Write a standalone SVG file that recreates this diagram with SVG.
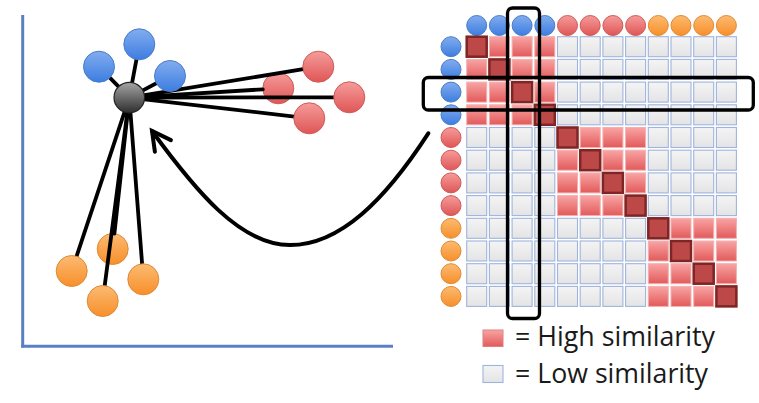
<svg xmlns="http://www.w3.org/2000/svg" xmlns:xlink="http://www.w3.org/1999/xlink" width="759" height="403" viewBox="0 0 759 403">
<style>
.axis{stroke:#5b7fc2;stroke-width:3;fill:none}
.edge{stroke:#000;stroke-width:3.8;stroke-linecap:round;fill:none}
.nb{fill:url(#gB);stroke:#4a7cc8;stroke-width:1}
.nr{fill:url(#gR);stroke:#cf5a5a;stroke-width:1}
.no{fill:url(#gO);stroke:#e08a35;stroke-width:1}
.nh{fill:url(#gH);stroke:#222;stroke-width:1.2}
.lo{fill:url(#gL);stroke:#9fb4dc;stroke-width:1.1}
.hi{fill:url(#gC);stroke:#f3b0b0;stroke-width:1}
.dg{fill:#bd4848;stroke:#7e2525;stroke-width:2.5}
.box{fill:none;stroke:#000;stroke-width:3.3}
.arrow{fill:none;stroke:#000;stroke-width:4;stroke-linecap:round}
.lg{font-family:"Open Sans","Liberation Sans",sans-serif;font-size:27px;fill:#1a1a1a}
</style>
<defs>
<linearGradient id="gB" x1="0" y1="0" x2="0" y2="1"><stop offset="0" stop-color="#82adef"/><stop offset="1" stop-color="#3d7de0"/></linearGradient>
<linearGradient id="gR" x1="0" y1="0" x2="0" y2="1"><stop offset="0" stop-color="#f59c9a"/><stop offset="1" stop-color="#df5656"/></linearGradient>
<linearGradient id="gO" x1="0" y1="0" x2="0" y2="1"><stop offset="0" stop-color="#fcbb72"/><stop offset="1" stop-color="#f78f2a"/></linearGradient>
<linearGradient id="gH" x1="0" y1="0" x2="0" y2="1"><stop offset="0" stop-color="#a5a5a5"/><stop offset="1" stop-color="#2e2e2e"/></linearGradient>
<linearGradient id="gL" x1="0" y1="0" x2="0" y2="1"><stop offset="0" stop-color="#f4f4f4"/><stop offset="1" stop-color="#e4e4e6"/></linearGradient>
<linearGradient id="gC" x1="0" y1="0" x2="0" y2="1"><stop offset="0" stop-color="#f9a4a4"/><stop offset="1" stop-color="#e25a5a"/></linearGradient>
<marker id="ah" markerUnits="userSpaceOnUse" orient="auto" refX="0" refY="0" markerWidth="40" markerHeight="40" viewBox="-30 -20 40 40" overflow="visible">
<path d="M -18.5 -9.9 L 0 0 L -18.5 9.9" fill="none" stroke="#000" stroke-width="4" stroke-linecap="round" stroke-linejoin="miter"/>
</marker>
<g id="lob">
<rect class="lo" x="0" y="0" width="20" height="20"/><rect class="lo" x="22.7" y="0" width="20" height="20"/><rect class="lo" x="45.4" y="0" width="20" height="20"/><rect class="lo" x="68.1" y="0" width="20" height="20"/>
<rect class="lo" x="0" y="22.7" width="20" height="20"/><rect class="lo" x="22.7" y="22.7" width="20" height="20"/><rect class="lo" x="45.4" y="22.7" width="20" height="20"/><rect class="lo" x="68.1" y="22.7" width="20" height="20"/>
<rect class="lo" x="0" y="45.4" width="20" height="20"/><rect class="lo" x="22.7" y="45.4" width="20" height="20"/><rect class="lo" x="45.4" y="45.4" width="20" height="20"/><rect class="lo" x="68.1" y="45.4" width="20" height="20"/>
<rect class="lo" x="0" y="68.1" width="20" height="20"/><rect class="lo" x="22.7" y="68.1" width="20" height="20"/><rect class="lo" x="45.4" y="68.1" width="20" height="20"/><rect class="lo" x="68.1" y="68.1" width="20" height="20"/>
</g>
<g id="hib">
<rect class="dg" x="0" y="0" width="20" height="20"/><rect class="hi" x="22.7" y="0" width="20" height="20"/><rect class="hi" x="45.4" y="0" width="20" height="20"/><rect class="hi" x="68.1" y="0" width="20" height="20"/>
<rect class="hi" x="0" y="22.7" width="20" height="20"/><rect class="dg" x="22.7" y="22.7" width="20" height="20"/><rect class="hi" x="45.4" y="22.7" width="20" height="20"/><rect class="hi" x="68.1" y="22.7" width="20" height="20"/>
<rect class="hi" x="0" y="45.4" width="20" height="20"/><rect class="hi" x="22.7" y="45.4" width="20" height="20"/><rect class="dg" x="45.4" y="45.4" width="20" height="20"/><rect class="hi" x="68.1" y="45.4" width="20" height="20"/>
<rect class="hi" x="0" y="68.1" width="20" height="20"/><rect class="hi" x="22.7" y="68.1" width="20" height="20"/><rect class="hi" x="45.4" y="68.1" width="20" height="20"/><rect class="dg" x="68.1" y="68.1" width="20" height="20"/>
</g>
</defs>
<rect width="759" height="403" fill="#fff"/>
<g id="axes">
<line class="axis" x1="22.7" y1="15" x2="22.7" y2="347.5"/>
<line class="axis" x1="21.2" y1="346.3" x2="393" y2="346.3"/>
</g>
<g id="node-r2"><circle class="nr" cx="278.3" cy="88.3" r="15.5"/></g>
<g id="node-o2"><circle class="no" cx="112.7" cy="249" r="15.5"/></g>
<g id="connectors">
<line class="edge" x1="129.3" y1="97.6" x2="99" y2="66.7"/>
<line class="edge" x1="129.3" y1="97.6" x2="139.3" y2="44.3"/>
<line class="edge" x1="129.3" y1="97.6" x2="170" y2="76"/>
<line class="edge" x1="129.3" y1="97.6" x2="318.3" y2="66.7"/>
<line class="edge" x1="129.3" y1="97.6" x2="262.8" y2="89.3"/>
<line class="edge" x1="129.3" y1="97.6" x2="349.3" y2="97.3"/>
<line class="edge" x1="129.3" y1="97.6" x2="309.3" y2="118.3"/>
<line class="edge" x1="129.3" y1="97.6" x2="71.7" y2="271"/>
<line class="edge" x1="129.3" y1="97.6" x2="114.4" y2="233.6"/>
<line class="edge" x1="129.3" y1="97.6" x2="143.3" y2="279.3"/>
<line class="edge" x1="129.3" y1="97.6" x2="102.7" y2="301"/>
<path class="arrow" d="M 428.3 133.3 C 385 200, 340 245, 290 245 C 240 245, 195 190, 152 131" marker-end="url(#ah)"/>
</g>
<g id="node-b1"><circle class="nb" cx="99" cy="66.7" r="15.5"/></g>
<g id="node-b2"><circle class="nb" cx="139.3" cy="44.3" r="15.5"/></g>
<g id="node-b3"><circle class="nb" cx="170" cy="76" r="15.5"/></g>
<g id="node-r1"><circle class="nr" cx="318.3" cy="66.7" r="15.5"/></g>
<g id="node-r3"><circle class="nr" cx="349.3" cy="97.3" r="15.5"/></g>
<g id="node-r4"><circle class="nr" cx="309.3" cy="118.3" r="15.5"/></g>
<g id="node-o1"><circle class="no" cx="71.7" cy="271" r="15.5"/></g>
<g id="node-o3"><circle class="no" cx="143.3" cy="279.3" r="15.5"/></g>
<g id="node-o4"><circle class="no" cx="102.7" cy="301" r="15.5"/></g>
<g id="node-hub"><circle class="nh" cx="129.3" cy="97.6" r="15.3"/></g>
<g id="matrix-labels">
<circle class="nb" cx="476.7" cy="25.5" r="10"/><circle class="nb" cx="499.4" cy="25.5" r="10"/><circle class="nb" cx="522.1" cy="25.5" r="10"/><circle class="nb" cx="544.8" cy="25.5" r="10"/>
<circle class="nr" cx="567.5" cy="25.5" r="10"/><circle class="nr" cx="590.2" cy="25.5" r="10"/><circle class="nr" cx="612.9" cy="25.5" r="10"/><circle class="nr" cx="635.6" cy="25.5" r="10"/>
<circle class="no" cx="658.3" cy="25.5" r="10"/><circle class="no" cx="681" cy="25.5" r="10"/><circle class="no" cx="703.7" cy="25.5" r="10"/><circle class="no" cx="726.4" cy="25.5" r="10"/>
<circle class="nb" cx="451" cy="46.7" r="10"/><circle class="nb" cx="451" cy="69.4" r="10"/><circle class="nb" cx="451" cy="92.1" r="10"/><circle class="nb" cx="451" cy="114.8" r="10"/>
<circle class="nr" cx="451" cy="137.5" r="10"/><circle class="nr" cx="451" cy="160.2" r="10"/><circle class="nr" cx="451" cy="182.9" r="10"/><circle class="nr" cx="451" cy="205.6" r="10"/>
<circle class="no" cx="451" cy="228.3" r="10"/><circle class="no" cx="451" cy="251" r="10"/><circle class="no" cx="451" cy="273.7" r="10"/><circle class="no" cx="451" cy="296.4" r="10"/>
</g>
<g id="matrix">
<use xlink:href="#hib" x="466.7" y="36.7"/>
<use xlink:href="#lob" x="557.5" y="36.7"/>
<use xlink:href="#lob" x="648.3" y="36.7"/>
<use xlink:href="#lob" x="466.7" y="127.5"/>
<use xlink:href="#hib" x="557.5" y="127.5"/>
<use xlink:href="#lob" x="648.3" y="127.5"/>
<use xlink:href="#lob" x="466.7" y="218.3"/>
<use xlink:href="#lob" x="557.5" y="218.3"/>
<use xlink:href="#hib" x="648.3" y="218.3"/>
</g>
<g id="highlights">
<rect class="box" x="423.3" y="77.5" width="330" height="32.5" rx="5"/>
<rect class="box" x="507.5" y="8" width="32" height="310.5" rx="5"/>
</g>
<g id="legend">
<rect class="hi" x="483" y="330" width="20" height="16.5" style="stroke:#e08080"/>
<rect class="lo" x="483" y="365.5" width="20" height="17"/>
<text class="lg" x="515" y="346" textLength="200" lengthAdjust="spacingAndGlyphs">= High similarity</text>
<text class="lg" x="515" y="383" textLength="193" lengthAdjust="spacingAndGlyphs">= Low similarity</text>
</g>
</svg>
